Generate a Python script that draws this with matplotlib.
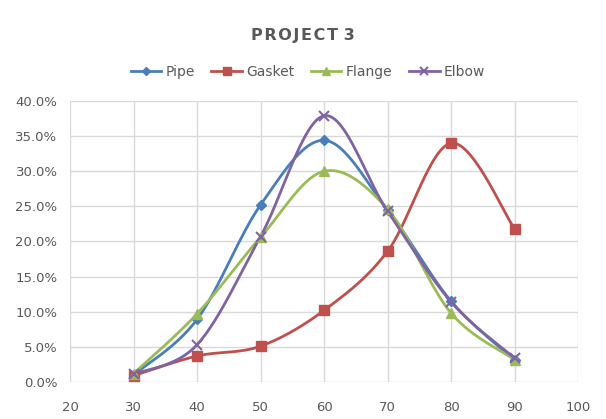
import numpy as np
import matplotlib
matplotlib.use("Agg")
import matplotlib.pyplot as plt
from matplotlib.ticker import PercentFormatter

x = [30, 40, 50, 60, 70, 80, 90]
pipe = [1.0, 8.9, 25.2, 34.4, 24.5, 11.5, 3.1]
gasket = [0.9, 3.7, 5.1, 10.2, 18.6, 34.0, 21.8]
flange = [1.2, 9.7, 20.6, 30.0, 24.6, 9.8, 3.2]
elbow = [1.1, 5.3, 20.7, 37.9, 24.3, 11.4, 3.4]

series = [
    ("Pipe", pipe, "#4a7ebb", "D", 5),
    ("Gasket", gasket, "#c0504d", "s", 7),
    ("Flange", flange, "#9bbb59", "^", 7),
    ("Elbow", elbow, "#8064a2", "x", 7),
]


def smooth(xs, ys, n=30):
    # Excel-like smoothing: Catmull-Rom style cubic bezier between points
    xs = np.asarray(xs, float)
    ys = np.asarray(ys, float)
    px = np.concatenate([[xs[0]], xs, [xs[-1]]])
    py = np.concatenate([[ys[0]], ys, [ys[-1]]])
    outx, outy = [], []
    t = np.linspace(0, 1, n)
    for i in range(1, len(px) - 2):
        p0 = np.array([px[i], py[i]])
        p3 = np.array([px[i + 1], py[i + 1]])
        c1 = p0 + (np.array([px[i + 1], py[i + 1]]) - np.array([px[i - 1], py[i - 1]])) / 6
        c2 = p3 - (np.array([px[i + 2], py[i + 2]]) - np.array([px[i], py[i]])) / 6
        b = ((1 - t) ** 3)[:, None] * p0 + (3 * (1 - t) ** 2 * t)[:, None] * c1 \
            + (3 * (1 - t) * t ** 2)[:, None] * c2 + (t ** 3)[:, None] * p3
        outx.extend(b[:, 0])
        outy.extend(b[:, 1])
    return outx, outy


fig = plt.figure(figsize=(6.06, 4.19), dpi=100)
ax = fig.add_axes([0.1155, 0.0883, 0.8385, 0.6707])

for name, ys, col, mk, ms in series:
    sx, sy = smooth(x, ys)
    ax.plot(sx, sy, color=col, lw=2.0, zorder=3)
    mew = 1.5 if mk == "x" else 1
    ax.plot(x, ys, linestyle="none", marker=mk, color=col, markersize=ms,
            markeredgewidth=mew, zorder=4)
    ax.plot([], [], color=col, lw=2.0, marker=mk, markersize=ms - 1,
            markeredgewidth=mew, label=name)

ax.set_xlim(20, 100)
ax.set_ylim(0, 40)
ax.set_xticks(range(20, 101, 10))
ax.set_yticks(np.arange(0, 41, 5))
ax.yaxis.set_major_formatter(PercentFormatter(decimals=1))
ax.grid(True, color="#d9d9d9", lw=1)
ax.set_axisbelow(True)
for s in ax.spines.values():
    s.set_visible(False)
ax.tick_params(length=0, colors="#595959", labelsize=9.5)
ax.tick_params(axis="x", pad=14)
ax.tick_params(axis="y", pad=9)

fig.text(0.5, 0.915, "\u200a".join("PROJECT") + " 3", ha="center", va="center",
         fontsize=11.5, fontweight="bold", color="#595959")
fig.legend(loc="center", bbox_to_anchor=(0.508, 0.828), ncol=4, frameon=False,
           fontsize=10, handlelength=2.2, columnspacing=1.2, handletextpad=0.3,
           labelcolor="#595959")

fig.savefig("out.png", dpi=100)
